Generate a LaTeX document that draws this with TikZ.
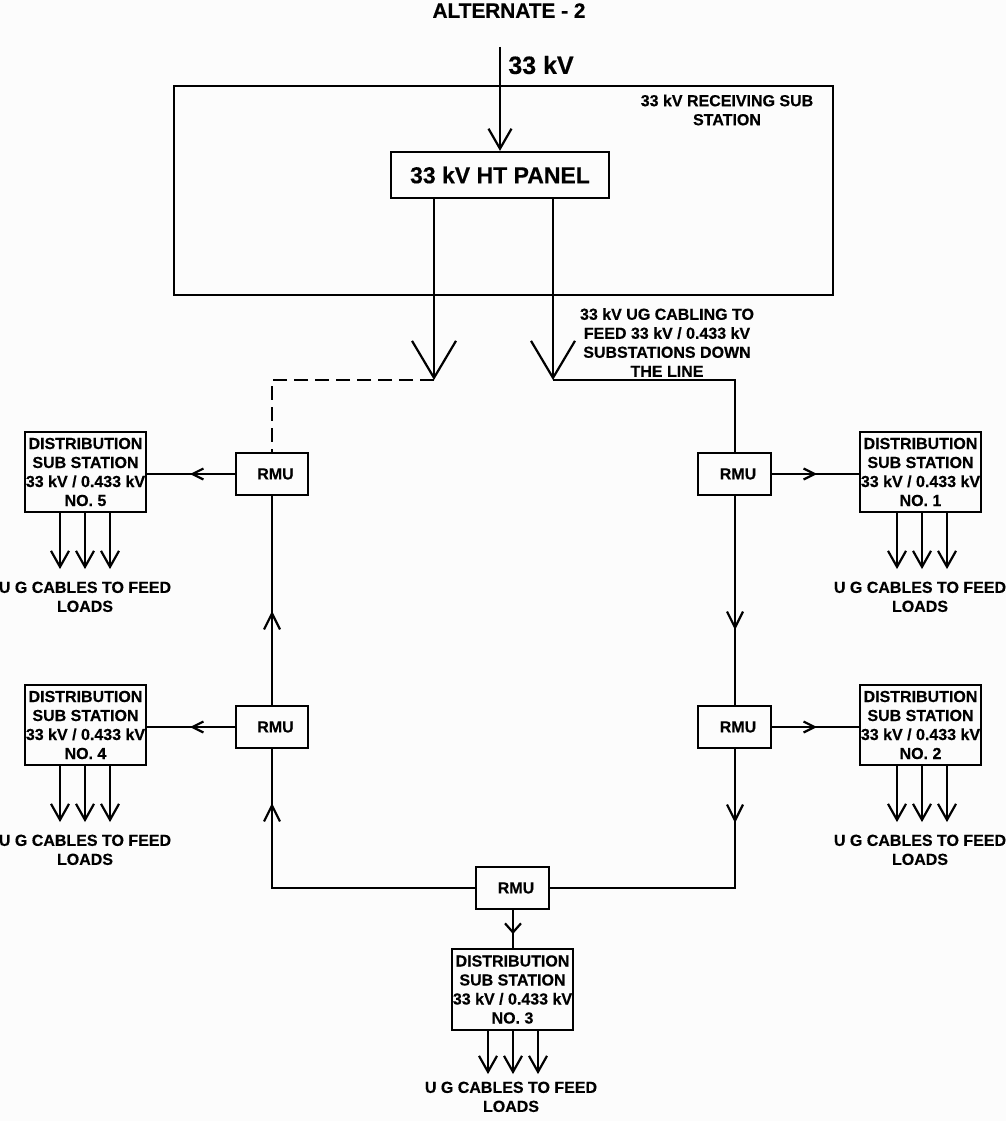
\documentclass[tikz,border=0pt]{standalone}
\usepackage{fontspec}
\setmainfont{Liberation Sans}[BoldFeatures={FakeBold=0.4}]
\usetikzlibrary{arrows.meta}
\definecolor{pagegrey}{HTML}{FCFCFC}
\tikzset{
	txt/.style={font=\fontsize{16}{19}\bfseries\selectfont,align=center,inner sep=0pt},
	box/.style={draw,line width=2.2pt,inner sep=0pt,align=center},
	dist/.style={box,txt,draw,minimum width=121pt,minimum height=80pt},
	rmu/.style={box,font=\fontsize{16}{19}\bfseries\selectfont,minimum width=72pt,minimum height=42pt},
	wire/.style={line width=2.2pt},
	vee/.style={wire,-{Straight Barb[length=16pt,width=16pt,line width=2.2pt]}},
	loadvee/.style={wire,-{Straight Barb[length=16pt,width=18pt,line width=2.2pt]}},
	sidevee/.style={wire,-{Straight Barb[length=11pt,width=11pt,line width=2.2pt]}},
	shortvee/.style={wire,-{Straight Barb[length=9pt,width=16pt,line width=2.2pt]}},
	bigvee/.style={wire,-{Straight Barb[length=37pt,width=44pt,line width=2.2pt]}},
	topvee/.style={wire,-{Straight Barb[length=20pt,width=23pt,line width=2.2pt]}},
}
\begin{document}
\begin{tikzpicture}[x=1pt,y=-1pt]
	\fill[pagegrey] (0,0) rectangle (1006,1121);
	\useasboundingbox (0,0) rectangle (1006,1121);
	% title and incoming supply
	\node[inner sep=0pt,font=\fontsize{20.8}{23}\bfseries\selectfont] (title) at (509,10.5) {ALTERNATE - 2};
	\node[inner sep=0pt,font=\fontsize{25}{30}\bfseries\selectfont] (supply) at (541,65) {33 kV};
	% receiving sub station
	\node[box,minimum width=659pt,minimum height=209pt] (recv) at (503.5,190.5) {};
	\node[txt] (recvtext) at (727,110) {33 kV RECEIVING SUB\\STATION};
	\node[box,font=\fontsize{23}{27}\bfseries\selectfont,minimum width=218pt,minimum height=46pt] (panel) at (500,175) {33 kV HT PANEL};
	\coordinate (feed) at (500,47);
	\draw[topvee] (feed) -- (panel.north);
	\node[txt] (cabletext) at (667,342.5) {33 kV UG CABLING TO\\FEED 33 kV / 0.433 kV\\SUBSTATIONS DOWN\\THE LINE};
	% ring main units
	\node[rmu,minimum width=73pt] (rmu1) at (734.5,474) {\hspace*{7pt}RMU};
	\node[rmu,minimum width=73pt] (rmu2) at (734.5,727) {\hspace*{7pt}RMU};
	\node[rmu,minimum width=73pt] (rmu3) at (512.5,888) {\hspace*{7pt}RMU};
	\node[rmu] (rmu4) at (272,727) {\hspace*{7pt}RMU};
	\node[rmu] (rmu5) at (272,474) {\hspace*{7pt}RMU};
	% distribution sub stations
	\node[dist] (ds1) at (920.5,472) {DISTRIBUTION\\SUB STATION\\33 kV / 0.433 kV\\NO. 1};
	\node[dist] (ds2) at (920.5,725) {DISTRIBUTION\\SUB STATION\\33 kV / 0.433 kV\\NO. 2};
	\node[dist,minimum height=81pt] (ds3) at (512.5,989.5) {DISTRIBUTION\\SUB STATION\\33 kV / 0.433 kV\\NO. 3};
	\node[dist] (ds4) at (85.5,725) {DISTRIBUTION\\SUB STATION\\33 kV / 0.433 kV\\NO. 4};
	\node[dist] (ds5) at (85.5,472) {DISTRIBUTION\\SUB STATION\\33 kV / 0.433 kV\\NO. 5};
	% open point on the left, closed feed on the right
	\coordinate (endl) at (434,380);
	\coordinate (endr) at (553,380);
	\coordinate (cornl) at (272,380);
	\coordinate (cornr) at (735,380);
	\draw[bigvee] (panel.south -| endl) -- (endl);
	\draw[bigvee] (panel.south -| endr) -- (endr);
	\draw[wire,dash pattern=on 14pt off 7pt] (endl) -- (cornl) -- (rmu5.north);
	\draw[wire] (endr) -- (cornr) -- (rmu1.north -| cornr);
	% ring
	\coordinate (m12) at (735,630);
	\coordinate (m23) at (735,823);
	\coordinate (m34) at (272,803);
	\coordinate (m45) at (272,611);
	\coordinate (cornbr) at (735,888);
	\coordinate (cornbl) at (272,888);
	\draw[vee] (rmu1.south -| cornr) -- (m12);
	\draw[wire] (rmu1.south -| cornr) -- (rmu2.north -| cornr);
	\draw[vee] (rmu2.south -| cornr) -- (m23);
	\draw[wire] (rmu2.south -| cornr) -- (cornbr) -- (rmu3.east);
	\draw[wire] (rmu3.west) -- (cornbl) -- (rmu4.south);
	\draw[vee] (cornbl) -- (m34);
	\draw[vee] (rmu4.north) -- (m45);
	\draw[wire] (rmu4.north) -- (rmu5.south);
	% rmu to distribution sub station
	\coordinate (a1) at (817,474);
	\coordinate (a2) at (817,727);
	\coordinate (a3) at (513,934);
	\coordinate (a4) at (190,727);
	\coordinate (a5) at (190,474);
	\draw[sidevee] (rmu1.east) -- (a1);
	\draw[wire] (rmu1.east) -- (ds1.west |- a1);
	\draw[sidevee] (rmu2.east) -- (a2);
	\draw[wire] (rmu2.east) -- (ds2.west |- a2);
	\draw[shortvee] (rmu3.south -| a3) -- (a3);
	\draw[wire] (rmu3.south -| a3) -- (ds3.north -| a3);
	\draw[sidevee] (rmu4.west) -- (a4);
	\draw[wire] (rmu4.west) -- (ds4.east |- a4);
	\draw[sidevee] (rmu5.west) -- (a5);
	\draw[wire] (rmu5.west) -- (ds5.east |- a5);
	% load cables
	\foreach \ds/\lx/\ly/\dx/\len in {ds1/920/587/1.5/56,ds2/920/840/1.5/56,ds4/85/840/-0.5/56,ds5/85/587/-0.5/56,ds3/511/1087/0.5/43}{
		\foreach \off in {-25,0,25}{
			\draw[loadvee] ([xshift=\off pt+\dx pt]\ds.south) -- ++(0,\len);
		}
		\node[txt,anchor=north] (\ds load) at (\lx,\ly-5.5) {U G CABLES TO FEED\\LOADS};
	}
\end{tikzpicture}
\end{document}
